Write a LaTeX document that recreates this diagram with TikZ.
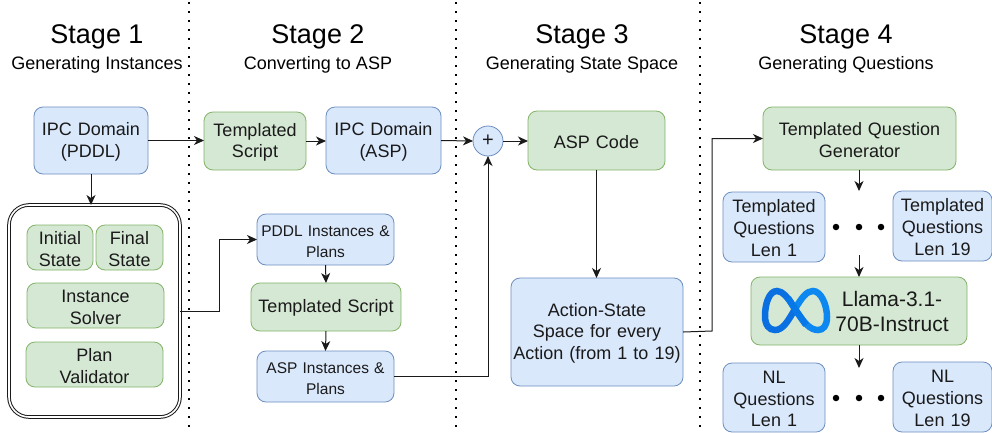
\documentclass[tikz,border=0pt]{standalone}
\usepackage{fontspec}
\setmainfont{Liberation Sans}
\usetikzlibrary{arrows.meta}
\definecolor{gfill}{HTML}{D5E8D4}
\definecolor{gline}{HTML}{82B366}
\definecolor{bfill}{HTML}{DAE8FC}
\definecolor{bline}{HTML}{6C8EBF}
\definecolor{ink}{HTML}{1A1A1A}
\tikzset{
 base/.style={rounded corners=9pt,line width=.8pt,align=center,inner sep=0pt,outer sep=0pt,text=ink,font=\fontsize{18}{21.7}\selectfont},
 gbox/.style={base,draw=gline,fill=gfill},
 bbox/.style={base,draw=bline,fill=bfill},
 small/.style={font=\fontsize{15.5}{20.5}\selectfont},
 conn/.style={line width=1pt,draw=ink,-{Stealth[length=10pt,width=9pt,inset=3pt]}},
 sep/.style={line width=1.7pt,draw=black,dash pattern=on 1.7pt off 7.3pt},
 title/.style={font=\fontsize{27}{30}\selectfont,text=black,inner sep=0pt},
 sub/.style={font=\fontsize{18}{20}\selectfont,text=black,inner sep=0pt},
 ell/.style={circle,fill=black,inner sep=0pt,minimum size=6.5pt},
}
\newcommand{\bx}[7]{%
 \pgfmathsetmacro{\bw}{#5-#3}\pgfmathsetmacro{\bh}{#6-#4}%
 \pgfmathsetmacro{\bcx}{(#3+#5)/2}\pgfmathsetmacro{\bcy}{(#4+#6)/2}%
 \node[#2,minimum width=\bw pt,minimum height=\bh pt,text width=\bw pt] (#1) at (\bcx,\bcy) {\rule{0pt}{15.5pt}#7};}
\begin{document}
\begin{tikzpicture}[x=1pt,y=-1pt]
\useasboundingbox (0,0) rectangle (992,432);
\fill[white] (0,0) rectangle (992,432);
% separators
\draw[sep] (189,2) -- (189,432);
\draw[sep] (456,2) -- (456,432);
\draw[sep] (700,2) -- (700,432);
% titles
\node[title] (t1) at (97,37) {Stage 1};
\node[sub] (s1) at (97,65) {Generating Instances};
\node[title] (t2) at (318,37) {Stage 2};
\node[sub] (s2) at (318,65) {Converting to ASP};
\node[title] (t3) at (582,37) {Stage 3};
\node[sub] (s3) at (582,65) {Generating State Space};
\node[title] (t4) at (846,37) {Stage 4};
\node[sub] (s4) at (846,65) {Generating Questions};
% stage 1
\bx{ipc}{bbox}{34}{107}{148}{174}{IPC Domain\\(PDDL)}
\bx{outer}{base,draw=ink,rounded corners=20pt,double=white,double distance=1.6pt,line width=1pt,fill=white}{9}{205}{180}{417}{}
\bx{init}{gbox}{27}{225}{93}{270}{Initial\\State}
\bx{final}{gbox}{96}{225}{163}{270}{Final\\State}
\bx{solver}{gbox}{27}{283}{164}{328}{Instance\\Solver}
\bx{valid}{gbox}{26}{342}{163}{387}{Plan\\Validator}
% stage 2
\bx{tpl}{gbox}{204}{112}{306}{170}{Templated\\Script}
\bx{ipcasp}{bbox}{326}{107}{441}{174}{IPC Domain\\(ASP)}
\bx{pddl}{bbox,small}{257}{214}{394}{265}{PDDL Instances \&\\Plans}
\bx{tpl2}{gbox}{251}{283}{401}{331}{Templated Script}
\bx{aspi}{bbox,small}{257}{351}{394}{402}{ASP Instances \&\\Plans}
% stage 3
\node[bbox,circle,minimum size=30pt,rounded corners=0pt,font=\fontsize{20}{22}\selectfont] (plus) at (488,141) {+};
\bx{code}{gbox}{528}{111}{665}{170}{ASP Code}
\bx{space}{bbox}{511}{278}{683}{386}{Action-State\\Space for every\\Action (from 1 to 19)}
% stage 4
\bx{gen}{gbox}{763}{107}{956}{170}{Templated Question\\Generator}
\bx{q1}{bbox}{723}{192}{825}{262}{Templated\\Questions\\Len 1}
\bx{q19}{bbox}{893}{191}{992}{261}{Templated\\Questions\\Len 19}
\bx{llama}{gbox}{751}{277}{967}{345}{}
\node[base,draw=none,fill=none,font=\fontsize{21}{25}\selectfont] (lt) at (892,311) {Llama-3.1-\\70B-Instruct};
\bx{n1}{bbox}{723}{363}{825}{432}{NL\\Questions\\Len 1}
\bx{n19}{bbox}{893}{362}{992}{432}{NL\\Questions\\Len 19}
\node[ell] (d1) at (836,227) {};
\node[ell] (d2) at (859,227) {};
\node[ell] (d3) at (881,227) {};
\node[ell] (d4) at (836,398) {};
\node[ell] (d5) at (859,398) {};
\node[ell] (d6) at (881,398) {};
% Meta logo
\definecolor{m1}{HTML}{0678E8}
\definecolor{m2}{HTML}{0A6FE0}
\definecolor{m3}{HTML}{0C88F0}
\draw[m2,line width=6.5pt,line cap=round] (795,309) .. controls (788,297) and (782,291) .. (777,291) .. controls (769,291) and (765,304) .. (765,316) .. controls (765,325) and (769,330) .. (775,330) .. controls (783,330) and (788,321) .. (795,309);
\draw[m3,line width=6.5pt,line cap=round] (795,309) .. controls (802,297) and (807,291) .. (813,291) .. controls (821,291) and (827,305) .. (827,317) .. controls (827,326) and (823,330) .. (818,330) .. controls (810,330) and (804,323) .. (795,309);
\draw[m1,line width=6.5pt] (788,298) -- (795,309) -- (806,325);
% connectors
\draw[conn] (ipc.east) -- (tpl.west |- ipc.east);
\draw[conn] (tpl.east) -- (ipcasp.west |- tpl.east);
\draw[conn] (ipcasp.east) -- (plus.west);
\draw[conn] (plus.east) -- (code.west |- plus.east);
\draw[conn] (ipc.south) -- (outer.north -| ipc.south);
\draw[conn] (outer.east) -- (219,311) |- (pddl.west);
\draw[conn] (pddl.south) -- (tpl2.north);
\draw[conn] (tpl2.south) -- (aspi.north);
\draw[conn] (aspi.east) -| (plus.south);
\draw[conn] (code.south) -- (space.north -| code.south);
\draw[conn] (space.east) -- (712,331) |- (gen.west);
\coordinate (a1) at (859,170);
\coordinate (a2) at (859,191);
\coordinate (a3) at (859,255);
\coordinate (a4) at (859,277);
\coordinate (a5) at (859,345);
\coordinate (a6) at (859,368);
\draw[conn] (a1) -- (a2);
\draw[conn] (a3) -- (a4);
\draw[conn] (a5) -- (a6);
\end{tikzpicture}
\end{document}
